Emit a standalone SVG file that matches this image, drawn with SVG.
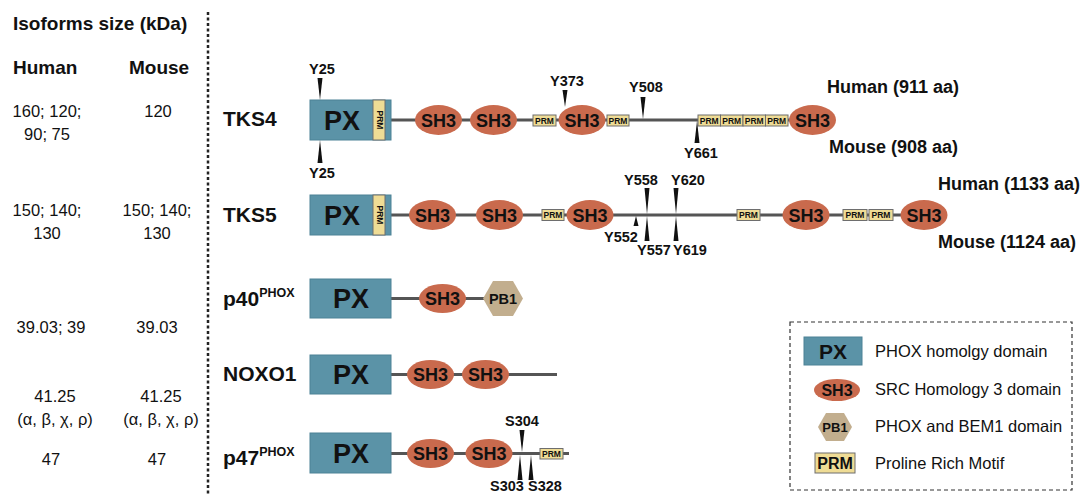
<svg xmlns="http://www.w3.org/2000/svg" width="1085" height="495" viewBox="0 0 1085 495">
<style>
text{font-family:"Liberation Sans",Arial,sans-serif;fill:#111}
.b{font-weight:bold}
.hd{font-size:19px;font-weight:bold}
.num{font-size:16.5px;text-anchor:middle}
.name{font-size:21px;font-weight:bold}
.sup{font-size:12.5px;font-weight:bold}
.px{fill:#5b93a7;stroke:#4d8296;stroke-width:1}
.pxt{font-size:27px;font-weight:bold;text-anchor:middle}
.sh3{fill:#c96a4d}
.sh3t{font-size:18px;font-weight:bold;text-anchor:middle}
.prm{fill:#efdc95;stroke:#6e6e6e;stroke-width:1}
.prmt{font-size:8.5px;font-weight:bold;text-anchor:middle}
.pb1{fill:#c2ae8e}
.line{stroke:#555;stroke-width:3;fill:none}
.site{font-size:14.5px;font-weight:bold;text-anchor:middle}
.mk{fill:#111}
.aa{font-size:18px;font-weight:bold}
.leg{font-size:16.5px}
</style>

<line x1="208" y1="12" x2="208" y2="495" stroke="#222" stroke-width="2.5" stroke-dasharray="3,2.5"/>

<g id="isoform-table">
<text class="hd" x="13" y="30">Isoforms size (kDa)</text>
<text class="hd" x="13" y="74">Human</text>
<text class="hd" x="129" y="74">Mouse</text>
<text class="num" x="47" y="117">160; 120;</text>
<text class="num" x="47" y="140">90; 75</text>
<text class="num" x="158" y="117">120</text>
<text class="num" x="47" y="216">150; 140;</text>
<text class="num" x="47" y="239">130</text>
<text class="num" x="157" y="216">150; 140;</text>
<text class="num" x="157" y="239">130</text>
<text class="num" x="51" y="333">39.03; 39</text>
<text class="num" x="157" y="333">39.03</text>
<text class="num" x="55" y="402">41.25</text>
<text class="num" x="55" y="425">(α, β, χ, ρ)</text>
<text class="num" x="161" y="402">41.25</text>
<text class="num" x="161" y="425">(α, β, χ, ρ)</text>
<text class="num" x="51" y="465">47</text>
<text class="num" x="157" y="465">47</text>
</g>

<g id="connectors">
<line class="line" x1="391" y1="120" x2="800" y2="120"/>
<line class="line" x1="391" y1="215" x2="910" y2="215"/>
<line class="line" x1="391" y1="298.5" x2="490" y2="298.5"/>
<line class="line" x1="391" y1="374.5" x2="557" y2="374.5"/>
<line class="line" x1="391" y1="453.5" x2="569" y2="453.5"/>
</g>

<g id="TKS4">
<text class="name" x="223" y="126">TKS4</text>
<rect class="px" x="310" y="100" width="81" height="40"/>
<text class="pxt" x="342" y="130">PX</text>
<rect class="prm" x="373" y="100" width="12" height="40"/>
<text class="prmt" transform="translate(376.5,120) rotate(90)" y="0">PRM</text>
<ellipse class="sh3" cx="438.5" cy="120" rx="23.5" ry="15"/>
<text class="sh3t" x="438.5" y="126.5">SH3</text>
<ellipse class="sh3" cx="493.5" cy="120" rx="23.5" ry="15"/>
<text class="sh3t" x="493.5" y="126.5">SH3</text>
<rect class="prm" x="533" y="115" width="23" height="11"/>
<text class="prmt" x="544.5" y="123.5">PRM</text>
<ellipse class="sh3" cx="582" cy="120" rx="23.5" ry="15"/>
<text class="sh3t" x="582" y="126.5">SH3</text>
<rect class="prm" x="607" y="115" width="22" height="11"/>
<text class="prmt" x="618" y="123.5">PRM</text>
<rect class="prm" x="698" y="115" width="22.5" height="11"/>
<text class="prmt" x="709.25" y="123.5">PRM</text>
<rect class="prm" x="720.5" y="115" width="22.5" height="11"/>
<text class="prmt" x="731.75" y="123.5">PRM</text>
<rect class="prm" x="743" y="115" width="22.5" height="11"/>
<text class="prmt" x="754.25" y="123.5">PRM</text>
<rect class="prm" x="765.5" y="115" width="22.5" height="11"/>
<text class="prmt" x="776.75" y="123.5">PRM</text>
<ellipse class="sh3" cx="812.5" cy="120" rx="23.5" ry="15"/>
<text class="sh3t" x="812.5" y="126.5">SH3</text>
<polygon class="mk" points="317.5,78 322.5,78 320,100"/>
<text class="site" x="322" y="74">Y25</text>
<polygon class="mk" points="317.5,163 322.5,163 320,140"/>
<text class="site" x="322" y="178">Y25</text>
<polygon class="mk" points="562.5,90 567.5,90 565,107"/>
<text class="site" x="567" y="86">Y373</text>
<polygon class="mk" points="640.5,97 645.5,97 643,119"/>
<text class="site" x="646" y="92">Y508</text>
<polygon class="mk" points="694.5,143 699.5,143 697,121"/>
<text class="site" x="701" y="158">Y661</text>
<text class="aa" x="827" y="93">Human (911 aa)</text>
<text class="aa" x="829" y="153">Mouse (908 aa)</text>
</g>

<g id="TKS5">
<text class="name" x="223" y="222">TKS5</text>
<rect class="px" x="310" y="195" width="81" height="40"/>
<text class="pxt" x="342" y="225">PX</text>
<rect class="prm" x="373" y="195" width="12" height="40"/>
<text class="prmt" transform="translate(376.5,215) rotate(90)" y="0">PRM</text>
<ellipse class="sh3" cx="432.5" cy="215" rx="23.5" ry="15"/>
<text class="sh3t" x="432.5" y="221.5">SH3</text>
<ellipse class="sh3" cx="499.5" cy="215" rx="23.5" ry="15"/>
<text class="sh3t" x="499.5" y="221.5">SH3</text>
<rect class="prm" x="542" y="209.5" width="22" height="11"/>
<text class="prmt" x="553" y="218">PRM</text>
<ellipse class="sh3" cx="590" cy="215" rx="23.5" ry="15"/>
<text class="sh3t" x="590" y="221.5">SH3</text>
<rect class="prm" x="737" y="209.5" width="23" height="11"/>
<text class="prmt" x="748.5" y="218">PRM</text>
<ellipse class="sh3" cx="806" cy="215" rx="23.5" ry="15"/>
<text class="sh3t" x="806" y="221.5">SH3</text>
<rect class="prm" x="843" y="209.5" width="24" height="11"/>
<text class="prmt" x="855" y="218">PRM</text>
<rect class="prm" x="869" y="209.5" width="24" height="11"/>
<text class="prmt" x="881" y="218">PRM</text>
<ellipse class="sh3" cx="924" cy="215" rx="23.5" ry="15"/>
<text class="sh3t" x="924" y="221.5">SH3</text>
<polygon class="mk" points="644.5,188 649.5,188 647,214"/>
<text class="site" x="641" y="185">Y558</text>
<polygon class="mk" points="644.5,241 649.5,241 647,216"/>
<text class="site" x="654" y="255">Y557</text>
<polygon class="mk" points="633.5,226 638.5,226 636,216"/>
<text class="site" x="621" y="242">Y552</text>
<polygon class="mk" points="673.5,188 678.5,188 676,214"/>
<text class="site" x="688" y="185">Y620</text>
<polygon class="mk" points="673.5,241 678.5,241 676,216"/>
<text class="site" x="690" y="255">Y619</text>
<text class="aa" x="938" y="190">Human (1133 aa)</text>
<text class="aa" x="938" y="248">Mouse (1124 aa)</text>
</g>

<g id="p40PHOX">
<text class="name" x="223" y="306">p40<tspan class="sup" dy="-9">PHOX</tspan></text>
<rect class="px" x="310" y="279" width="81" height="39"/>
<text class="pxt" x="351" y="308">PX</text>
<ellipse class="sh3" cx="442.5" cy="298.5" rx="23.5" ry="14.5"/>
<text class="sh3t" x="442.5" y="305">SH3</text>
<polygon class="pb1" points="483,298.5 493,281 513,281 523,298.5 513,316 493,316"/>
<text class="b" x="503" y="304" font-size="14.5" text-anchor="middle">PB1</text>
</g>

<g id="NOXO1">
<text class="name" x="223" y="381">NOXO1</text>
<rect class="px" x="310" y="355" width="81" height="39"/>
<text class="pxt" x="351" y="384">PX</text>
<ellipse class="sh3" cx="430.5" cy="374.5" rx="23.5" ry="14.5"/>
<text class="sh3t" x="430.5" y="381">SH3</text>
<ellipse class="sh3" cx="485.5" cy="374.5" rx="23.5" ry="14.5"/>
<text class="sh3t" x="485.5" y="381">SH3</text>
</g>

<g id="p47PHOX">
<text class="name" x="223" y="465">p47<tspan class="sup" dy="-9">PHOX</tspan></text>
<rect class="px" x="310" y="433" width="81" height="40"/>
<text class="pxt" x="351" y="463">PX</text>
<ellipse class="sh3" cx="430.5" cy="453.5" rx="23.5" ry="14.5"/>
<text class="sh3t" x="430.5" y="460">SH3</text>
<ellipse class="sh3" cx="489" cy="453.5" rx="23.5" ry="14.5"/>
<text class="sh3t" x="489" y="460">SH3</text>
<rect class="prm" x="540" y="448.5" width="23" height="10.5"/>
<text class="prmt" x="551.5" y="457">PRM</text>
<polygon class="mk" points="519.5,430 524.5,430 522,452"/>
<text class="site" x="522" y="426">S304</text>
<polygon class="mk" points="517.5,480 522.5,480 520,455"/>
<text class="site" x="507" y="491">S303</text>
<polygon class="mk" points="528.5,480 533.5,480 531,455"/>
<text class="site" x="545" y="491">S328</text>
</g>

<g id="legend">
<rect x="790" y="322" width="282" height="168" fill="none" stroke="#333" stroke-width="1.2" stroke-dasharray="4,3"/>
<rect class="px" x="804" y="337" width="58" height="28"/>
<text x="833" y="359" font-size="21" class="b" text-anchor="middle">PX</text>
<text class="leg" x="875" y="357">PHOX homolgy domain</text>
<ellipse class="sh3" cx="837" cy="390" rx="23" ry="11"/>
<text x="837" y="396" font-size="16" class="b" text-anchor="middle">SH3</text>
<text class="leg" x="875" y="395">SRC Homology 3 domain</text>
<polygon class="pb1" points="818,427 826,413 844,413 852,427 844,441 826,441"/>
<text x="835" y="432" font-size="13" class="b" text-anchor="middle">PB1</text>
<text class="leg" x="875" y="432">PHOX and BEM1 domain</text>
<rect class="prm" x="815" y="453" width="40" height="20"/>
<text x="835" y="469" font-size="16" class="b" text-anchor="middle">PRM</text>
<text class="leg" x="875" y="469">Proline Rich Motif</text>
</g>
</svg>
